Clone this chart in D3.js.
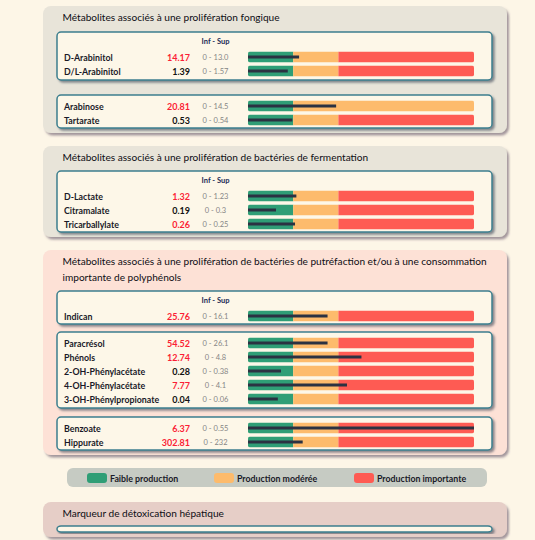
<!DOCTYPE html>
<html><head><meta charset="utf-8">
<script src="https://cdn.jsdelivr.net/npm/d3@7/dist/d3.min.js"></script>
<style>
body{margin:0;background:#fdf6e7;}
svg{display:block;font-family:Lato,"Noto Sans",sans-serif;}
</style></head><body><div id="chart"></div>
<script>
// panel titles (multi-line where wrapped)
const panelTitles = [
  ["Métabolites associés à une prolifération fongique"],
  ["Métabolites associés à une prolifération de bactéries de fermentation"],
  ["Métabolites associés à une prolifération de bactéries de putréfaction et/ou à une consommation", "importante de polyphénols"],
  ["Marqueur de détoxication hépatique"]
];
const names = ["D-Arabinitol", "D/L-Arabinitol", "Arabinose", "Tartarate",
  "D-Lactate", "Citramalate", "Tricarballylate",
  "Indican", "Paracrésol", "Phénols", "2-OH-Phénylacétate", "4-OH-Phénylacétate", "3-OH-Phénylpropionate",
  "Benzoate", "Hippurate"];
const values = [14.17, 1.39, 20.81, 0.53, 1.32, 0.19, 0.26, 25.76, 54.52, 12.74, 0.28, 7.77, 0.04, 6.37, 302.81];
const supLimits = ["13.0", "1.57", "14.5", "0.54", "1.23", "0.3", "0.25", "16.1", "26.1", "4.8", "0.38", "4.1", "0.06", "0.55", "232"];
// position on the 0-5 production gauge (1 = upper ref, 2 = start of high zone)
const gaugeIndex = [1.13, 0.88, 1.95, 0.98, 1.07, 0.62, 1.04, 1.76, 1.76, 2.51, 0.73, 2.19, 0.66, 5, 1.21];
const redFrom = [2, 2, 5, 2, 2, 2, 2, 2, 2, 2, 2, 2, 2, 2, 2];
const rowPanel = [0, 0, 0, 0, 1, 1, 1, 2, 2, 2, 2, 2, 2, 2, 2];
const rowBox = [0, 0, 1, 1, 0, 0, 0, 0, 1, 1, 1, 1, 1, 2, 2];
const legendLabels = ["Faible production", "Production modérée", "Production importante"];

const W = 535, H = 540;
const zoneColors = ["#2f9e76", "#fdbb6c", "#fe5b53"];

const layout = [
  {y: 6, h: 127, fill: "#e8e4d9", titleY: [17], boxes: [{y: 32, h: 48, header: true}, {y: 95, h: 33}]},
  {y: 146, h: 91, fill: "#e8e4d9", titleY: [157], boxes: [{y: 171, h: 61, header: true}]},
  {y: 250, h: 205, fill: "#fde1d6", titleY: [261, 277], boxes: [{y: 291, h: 33, header: true}, {y: 332, h: 76}, {y: 417, h: 33}]},
  {y: 502, h: 35, fill: "#e6cec7", titleY: [513], boxes: [{y: 526, h: 6}]}
];

const svg = d3.select("#chart").append("svg").attr("width", W).attr("height", H);
const defs = svg.append("defs");
const f1 = defs.append("filter").attr("id", "pshadow").attr("x", "-5%").attr("y", "-5%").attr("width", "115%").attr("height", "120%");
f1.append("feDropShadow").attr("dx", 2).attr("dy", 2.5).attr("stdDeviation", 1.3)
  .attr("flood-color", "#5a4a5e").attr("flood-opacity", 0.55);
const f2 = defs.append("filter").attr("id", "bshadow").attr("x", "-5%").attr("y", "-10%").attr("width", "115%").attr("height", "140%");
f2.append("feDropShadow").attr("dx", 2).attr("dy", 2).attr("stdDeviation", 1)
  .attr("flood-color", "#3a4658").attr("flood-opacity", 0.6);

const x = d3.scaleLinear().domain([0, 5]).range([248, 474]);
const fmt = d3.format(".2f");

// panels
layout.forEach((p, pi) => {
  const g = svg.append("g");
  g.append("rect").attr("x", 43).attr("y", p.y).attr("width", 464).attr("height", p.h)
    .attr("rx", 8).attr("fill", p.fill).attr("filter", "url(#pshadow)");
  panelTitles[pi].forEach((t, i) => {
    g.append("text").attr("x", 62.5).attr("y", p.titleY[i]).attr("dominant-baseline", "central")
      .attr("font-size", 10.1).attr("fill", "#0d0d14").text(t);
  });
  p.boxes.forEach((b, bi) => {
    g.append("rect").attr("x", 57).attr("y", b.y).attr("width", 435).attr("height", b.h)
      .attr("rx", 4).attr("fill", "#fdf7e8").attr("stroke", "#3d7f8e").attr("stroke-width", 1.5)
      .attr("filter", "url(#bshadow)");
    if (b.header) {
      g.append("text").attr("x", 215.5).attr("y", b.y + 9).attr("text-anchor", "middle")
        .attr("dominant-baseline", "central").attr("font-size", 7.5).attr("font-weight", 700)
        .attr("fill", "#1b2a55").text("Inf - Sup");
    }
    const rows = d3.range(names.length).filter(i => rowPanel[i] === pi && rowBox[i] === bi);
    rows.forEach((ri, k) => {
      const cy = b.y + (b.header ? 25 : 11) + k * 14;
      const over = values[ri] > +supLimits[ri];
      g.append("text").attr("x", 64).attr("y", cy).attr("dominant-baseline", "central")
        .attr("font-size", 8.8).attr("font-weight", 700).attr("fill", "#1a1a28").text(names[ri]);
      g.append("text").attr("x", 190).attr("y", cy).attr("text-anchor", "end").attr("dominant-baseline", "central")
        .attr("font-size", 9).attr("font-weight", 700).attr("fill", over ? "#fb1e35" : "#111").text(fmt(values[ri]));
      g.append("text").attr("x", 215.5).attr("y", cy).attr("text-anchor", "middle").attr("dominant-baseline", "central")
        .attr("font-size", 7.5).attr("fill", "#858585").text("0 - " + supLimits[ri]);

      const cid = "clip" + ri;
      defs.append("clipPath").attr("id", cid).append("rect")
        .attr("x", x(0)).attr("y", cy - 5.5).attr("width", x(5) - x(0)).attr("height", 11).attr("rx", 2);
      const bar = g.append("g").attr("clip-path", "url(#" + cid + ")");
      const zones = [[0, 1], [1, redFrom[ri]], [redFrom[ri], 5]];
      zones.forEach((z, zi) => {
        if (z[1] <= z[0]) return;
        bar.append("rect").attr("x", x(z[0])).attr("y", cy - 5.5).attr("width", x(z[1]) - x(z[0])).attr("height", 11)
          .attr("fill", zoneColors[zi]);
      });
      g.append("line").attr("x1", x(0)).attr("x2", x(Math.min(gaugeIndex[ri], 5)))
        .attr("y1", cy).attr("y2", cy).attr("stroke", "#2b3242").attr("stroke-width", 3);
    });
  });
});

// legend
const lg = svg.append("g");
lg.append("rect").attr("x", 67).attr("y", 468).attr("width", 420).attr("height", 19).attr("rx", 6).attr("fill", "#c6cbc3");
const legX = [87, 214, 354];
legendLabels.forEach((l, i) => {
  lg.append("rect").attr("x", legX[i]).attr("y", 473).attr("width", 20).attr("height", 10).attr("rx", 3).attr("fill", zoneColors[i]);
  lg.append("text").attr("x", legX[i] + 23).attr("y", 478).attr("dominant-baseline", "central")
    .attr("font-size", 8.8).attr("font-weight", 700).attr("fill", "#1a1a28").text(l);
});
</script></body></html>
